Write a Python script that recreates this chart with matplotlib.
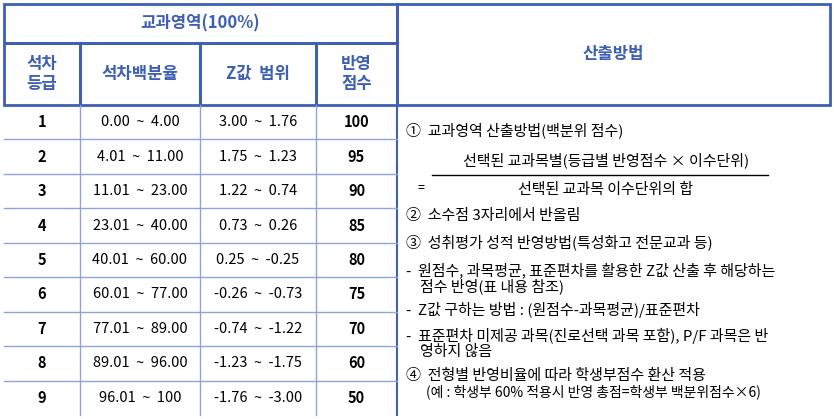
import matplotlib.pyplot as plt
from matplotlib.patches import Rectangle

plt.rcParams["font.family"] = ["Noto Sans CJK KR", "DejaVu Sans"]

grades = ["1", "2", "3", "4", "5", "6", "7", "8", "9"]
percentiles = ["0.00  ~  4.00", "4.01  ~  11.00", "11.01  ~  23.00", "23.01  ~  40.00",
               "40.01  ~  60.00", "60.01  ~  77.00", "77.01  ~  89.00", "89.01  ~  96.00",
               "96.01  ~  100"]
z_ranges = ["3.00  ~  1.76", "1.75  ~  1.23", "1.22  ~  0.74", "0.73  ~  0.26",
            "0.25  ~  -0.25", "-0.26  ~  -0.73", "-0.74  ~  -1.22", "-1.23  ~  -1.75",
            "-1.76  ~  -3.00"]
scores = [100, 95, 90, 85, 80, 75, 70, 60, 50]

BLUE = "#3d5fb4"
LIGHT = "#8ea4d8"
W, H = 834, 419

fig = plt.figure(figsize=(W / 100, H / 100), dpi=100)
ax = fig.add_axes([0, 0, 1, 1])
ax.set_xlim(0, W)
ax.set_ylim(H, 0)
ax.axis("off")

cols = [4, 80, 200, 316, 397, 830]
top, mid, hdr, bot = 4, 43, 105, 415
rh = (bot - hdr) / len(grades)

# header boxes
ax.add_patch(Rectangle((cols[0], top), cols[4] - cols[0], mid - top, fill=False, ec=BLUE, lw=2))
ax.add_patch(Rectangle((cols[4], top), cols[5] - cols[4], hdr - top, fill=False, ec=BLUE, lw=2))
for i in range(4):
    ax.add_patch(Rectangle((cols[i], mid), cols[i + 1] - cols[i], hdr - mid, fill=False, ec=BLUE, lw=2))
ax.text((cols[0] + cols[4]) / 2, (top + mid) / 2, "교과영역(100%)", color=BLUE,
        ha="center", va="center", fontsize=12, fontweight="bold")
ax.text((cols[4] + cols[5]) / 2, (top + hdr) / 2, "산출방법", color=BLUE,
        ha="center", va="center", fontsize=12, fontweight="bold")
for i, lab in enumerate(["석차\n등급", "석차백분율", "Z값  범위", "반영\n점수"]):
    ax.text((cols[i] + cols[i + 1]) / 2, (mid + hdr) / 2, lab, color=BLUE,
            ha="center", va="center", fontsize=12, fontweight="bold", linespacing=1.15)

# data rows
for c in cols[1:4]:
    ax.plot([c, c], [hdr, bot], color=LIGHT, lw=1)
ax.plot([cols[4], cols[4]], [hdr, bot], color=BLUE, lw=1.5)
for r in range(len(grades)):
    yc = hdr + rh * (r + 0.5)
    if r > 0:
        ax.plot([cols[0], cols[4]], [hdr + rh * r, hdr + rh * r], color=LIGHT, lw=1)
    ax.text((cols[0] + cols[1]) / 2, yc, grades[r], ha="center", va="center", fontsize=10.5, fontweight="bold")
    ax.text((cols[1] + cols[2]) / 2, yc, percentiles[r], ha="center", va="center", fontsize=10.5)
    ax.text((cols[2] + cols[3]) / 2, yc, z_ranges[r], ha="center", va="center", fontsize=10.5)
    ax.text((cols[3] + cols[4]) / 2, yc, str(scores[r]), ha="center", va="center", fontsize=10.5, fontweight="bold")

# method text
fs = 10.8
x0 = 406
ax.text(x0, 130, "①  교과영역 산출방법(백분위 점수)", va="center", fontsize=fs)
ax.text(606, 160, "선택된 교과목별(등급별 반영점수 × 이수단위)", ha="center", va="center", fontsize=fs)
ax.plot([432, 768], [175, 175], color="black", lw=1)
ax.text(418, 188, "=", va="center", fontsize=9)
ax.text(606, 190, "선택된 교과목 이수단위의 합", ha="center", va="center", fontsize=fs)
ax.text(x0, 216, "②  소수점 3자리에서 반올림", va="center", fontsize=fs)
ax.text(x0, 242, "③  성취평가 성적 반영방법(특성화고 전문교과 등)", va="center", fontsize=fs)
ax.text(x0, 270, "-  원점수, 과목평균, 표준편차를 활용한 Z값 산출 후 해당하는", va="center", fontsize=fs)
ax.text(x0 + 14, 286, "점수 반영(표 내용 참조)", va="center", fontsize=fs)
ax.text(x0, 310, "-  Z값 구하는 방법 : (원점수-과목평균)/표준편차", va="center", fontsize=fs)
ax.text(x0, 336, "-  표준편차 미제공 과목(진로선택 과목 포함), P/F 과목은 반", va="center", fontsize=fs)
ax.text(x0 + 14, 352, "영하지 않음", va="center", fontsize=fs)
ax.text(x0, 376, "④  전형별 반영비율에 따라 학생부점수 환산 적용", va="center", fontsize=fs)
ax.text(x0 + 20, 392, "(예 : 학생부 60% 적용시 반영 총점=학생부 백분위점수×6)", va="center", fontsize=10)

fig.savefig("out.png", dpi=100)
